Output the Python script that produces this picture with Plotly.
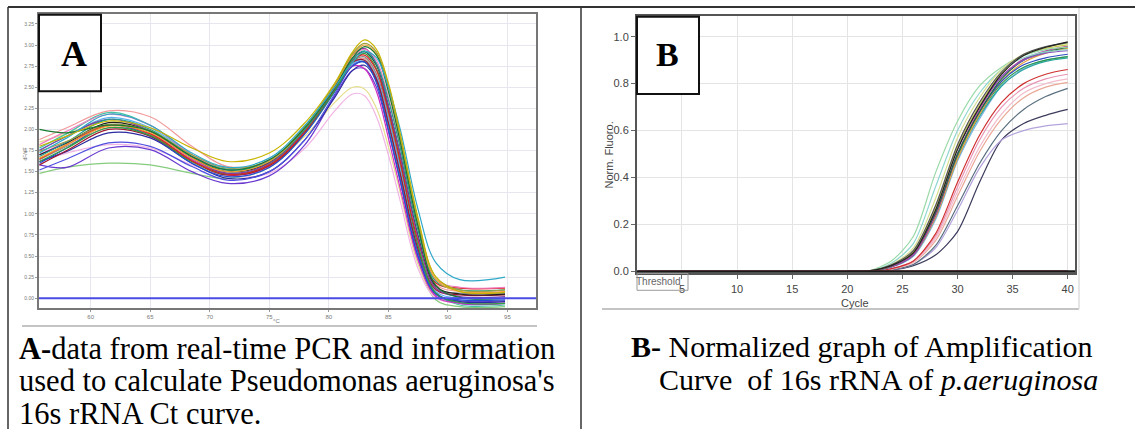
import plotly.graph_objects as go

# ---------------- Panel A: melt curve data (temperature in °C) ----------------
melt_temps = [55.7, 58, 61.5, 65, 68.5, 71.5, 75, 78, 80.5, 82, 83, 84, 85, 86, 87.5, 89, 91, 94.8]

melt_yellow     = [1.80, 1.92, 2.10, 2.02, 1.78, 1.62, 1.72, 2.08, 2.55, 2.92, 3.06, 2.95, 2.55, 1.95, 0.95, 0.25, 0.08, 0.07]
melt_darkgreen  = [2.00, 1.96, 2.05, 1.98, 1.68, 1.52, 1.64, 2.02, 2.50, 2.85, 2.98, 2.88, 2.45, 1.85, 0.85, 0.15, 0.01, 0.00]
melt_green      = [1.62, 1.78, 2.02, 1.93, 1.62, 1.47, 1.58, 1.98, 2.46, 2.80, 2.90, 2.72, 2.22, 1.62, 0.62, 0.06, -0.05, -0.06]
melt_lightgreen = [1.48, 1.55, 1.60, 1.58, 1.48, 1.42, 1.55, 1.95, 2.45, 2.78, 2.84, 2.60, 2.02, 1.40, 0.45, -0.02, -0.10, -0.10]
melt_cyan       = [1.72, 1.90, 2.18, 2.05, 1.72, 1.55, 1.66, 2.05, 2.50, 2.80, 2.92, 2.85, 2.50, 2.00, 1.05, 0.42, 0.22, 0.25]
melt_teal       = [1.68, 1.85, 2.12, 2.00, 1.68, 1.52, 1.62, 2.00, 2.50, 2.83, 2.93, 2.78, 2.35, 1.78, 0.80, 0.20, 0.10, 0.10]
melt_blue       = [1.60, 1.78, 2.05, 1.92, 1.60, 1.44, 1.55, 1.95, 2.45, 2.75, 2.80, 2.55, 2.00, 1.40, 0.50, 0.05, -0.02, -0.02]
melt_navy       = [1.62, 1.74, 1.96, 1.90, 1.60, 1.42, 1.50, 1.88, 2.38, 2.70, 2.76, 2.58, 2.10, 1.50, 0.55, 0.06, -0.04, -0.04]
melt_violet     = [1.58, 1.55, 1.78, 1.76, 1.50, 1.36, 1.45, 1.82, 2.40, 2.70, 2.72, 2.50, 1.98, 1.38, 0.48, 0.04, -0.03, -0.03]
melt_purple     = [1.75, 1.92, 2.12, 1.98, 1.66, 1.48, 1.60, 2.00, 2.52, 2.88, 2.96, 2.78, 2.28, 1.70, 0.72, 0.12, 0.02, 0.02]
melt_magenta    = [1.70, 1.85, 2.05, 1.95, 1.64, 1.46, 1.56, 1.96, 2.46, 2.75, 2.72, 2.45, 1.90, 1.30, 0.45, 0.02, -0.06, -0.06]
melt_pink       = [1.82, 1.98, 2.18, 2.05, 1.70, 1.52, 1.64, 2.02, 2.52, 2.85, 2.95, 2.82, 2.38, 1.80, 0.82, 0.22, 0.13, 0.13]
melt_lightpink  = [1.62, 1.72, 1.82, 1.78, 1.58, 1.45, 1.48, 1.78, 2.22, 2.42, 2.40, 2.15, 1.70, 1.15, 0.35, 0.00, -0.05, -0.05]
melt_paleyellow = [1.85, 1.95, 2.10, 2.00, 1.70, 1.52, 1.60, 1.92, 2.32, 2.50, 2.48, 2.25, 1.80, 1.25, 0.40, 0.02, -0.04, -0.04]
melt_rose       = [1.88, 2.02, 2.22, 2.15, 1.80, 1.56, 1.62, 2.00, 2.48, 2.78, 2.84, 2.65, 2.15, 1.58, 0.66, 0.16, 0.08, 0.08]
melt_red        = [1.65, 1.82, 2.05, 1.95, 1.63, 1.47, 1.58, 1.98, 2.50, 2.82, 2.88, 2.70, 2.22, 1.62, 0.68, 0.18, 0.12, 0.12]
melt_darkred    = [1.58, 1.75, 2.00, 1.92, 1.62, 1.46, 1.57, 1.97, 2.48, 2.80, 2.82, 2.60, 2.08, 1.48, 0.58, 0.10, 0.04, 0.04]
melt_black      = [1.70, 1.84, 2.08, 1.98, 1.67, 1.50, 1.61, 2.01, 2.50, 2.84, 2.92, 2.76, 2.28, 1.70, 0.74, 0.14, 0.05, 0.05]
melt_orange     = [1.66, 1.82, 2.04, 1.96, 1.66, 1.50, 1.62, 2.02, 2.52, 2.88, 3.00, 2.90, 2.48, 1.88, 0.88, 0.22, 0.08, 0.08]
melt_lightblue  = [1.76, 1.92, 2.14, 2.02, 1.70, 1.53, 1.63, 2.03, 2.50, 2.78, 2.82, 2.62, 2.12, 1.52, 0.60, 0.08, 0.00, 0.00]
melt_olive      = [1.74, 1.86, 2.06, 1.98, 1.70, 1.54, 1.64, 2.04, 2.54, 2.90, 3.02, 2.92, 2.52, 1.92, 0.92, 0.25, 0.10, 0.10]
melt_bluepurple = [1.52, 1.65, 1.84, 1.80, 1.56, 1.40, 1.50, 1.88, 2.42, 2.76, 2.80, 2.60, 2.08, 1.48, 0.56, 0.06, -0.06, -0.06]
melt_seagreen   = [1.78, 1.95, 2.20, 2.05, 1.70, 1.52, 1.60, 1.98, 2.46, 2.76, 2.80, 2.58, 2.05, 1.45, 0.54, 0.06, -0.08, -0.08]
melt_gray       = [1.64, 1.80, 2.02, 1.94, 1.64, 1.48, 1.58, 1.98, 2.48, 2.80, 2.86, 2.66, 2.16, 1.56, 0.64, 0.12, 0.06, 0.06]

melt_threshold = 0.0
melt_xticks = [60, 65, 70, 75, 80, 85, 90, 95]
melt_yticks = [0.00, 0.25, 0.50, 0.75, 1.00, 1.25, 1.50, 1.75, 2.00, 2.25, 2.50, 2.75, 3.00, 3.25]

# ---------------- Panel B: amplification data (normalised fluorescence) ----------------
amp_cycles = [1, 20, 22, 24, 26, 28, 30, 32, 34, 36, 38, 40]

amp_lightgreen  = [0, 0, 0.004, 0.045, 0.15, 0.42, 0.64, 0.79, 0.87, 0.92, 0.945, 0.955]
amp_lightteal   = [0, 0, 0.003, 0.035, 0.12, 0.36, 0.60, 0.76, 0.86, 0.91, 0.935, 0.945]
amp_yellowgreen = [0, 0, 0.003, 0.030, 0.10, 0.31, 0.57, 0.74, 0.86, 0.925, 0.955, 0.970]
amp_gray        = [0, 0, 0.003, 0.028, 0.09, 0.28, 0.54, 0.72, 0.85, 0.925, 0.958, 0.975]
amp_olive       = [0, 0, 0.003, 0.026, 0.085, 0.27, 0.53, 0.71, 0.845, 0.92, 0.95, 0.965]
amp_purple      = [0, 0, 0.003, 0.025, 0.08, 0.26, 0.52, 0.70, 0.83, 0.90, 0.93, 0.94]
amp_darkgreen   = [0, 0, 0.002, 0.024, 0.08, 0.25, 0.50, 0.68, 0.82, 0.90, 0.935, 0.955]
amp_magenta     = [0, 0, 0.002, 0.020, 0.072, 0.24, 0.50, 0.69, 0.83, 0.905, 0.94, 0.96]
amp_blue        = [0, 0, 0.002, 0.020, 0.07, 0.24, 0.50, 0.68, 0.81, 0.88, 0.91, 0.925]
amp_green       = [0, 0, 0.002, 0.022, 0.075, 0.24, 0.49, 0.67, 0.80, 0.87, 0.90, 0.915]
amp_teal        = [0, 0, 0.002, 0.020, 0.07, 0.23, 0.48, 0.66, 0.79, 0.86, 0.895, 0.91]
amp_orange      = [0, 0, 0.002, 0.020, 0.07, 0.23, 0.48, 0.67, 0.81, 0.89, 0.93, 0.95]
amp_lightblue   = [0, 0, 0.002, 0.018, 0.065, 0.22, 0.47, 0.65, 0.79, 0.865, 0.90, 0.915]
amp_red         = [0, 0, 0.001, 0.012, 0.045, 0.16, 0.38, 0.58, 0.72, 0.80, 0.84, 0.86]
amp_pink        = [0, 0, 0.001, 0.012, 0.045, 0.15, 0.36, 0.56, 0.70, 0.78, 0.82, 0.84]
amp_lightpink   = [0, 0, 0.001, 0.010, 0.040, 0.14, 0.34, 0.53, 0.67, 0.76, 0.80, 0.82]
amp_salmon      = [0, 0, 0.001, 0.010, 0.038, 0.13, 0.32, 0.51, 0.65, 0.74, 0.785, 0.805]
amp_slateblue   = [0, 0, 0.001, 0.008, 0.030, 0.11, 0.28, 0.46, 0.60, 0.69, 0.745, 0.78]
amp_lavender    = [0, 0, 0.001, 0.008, 0.030, 0.10, 0.26, 0.44, 0.56, 0.60, 0.62, 0.63]
amp_darkslate   = [0, 0, 0.001, 0.006, 0.025, 0.07, 0.17, 0.38, 0.56, 0.63, 0.665, 0.69]
amp_black       = [0, 0, 0.003, 0.025, 0.08, 0.26, 0.52, 0.70, 0.84, 0.92, 0.955, 0.978]
amp_negative    = [0.003, 0.003, 0.003, 0.003, 0.003, 0.003, 0.003, 0.003, 0.003, 0.003, 0.003, 0.003]

amp_threshold = 0.0
amp_xticks = [5, 10, 15, 20, 25, 30, 35, 40]
amp_yticks = [0.0, 0.2, 0.4, 0.6, 0.8, 1.0]

melt_series = [
    (melt_lightgreen, "#86cc7e"), (melt_paleyellow, "#e6df8e"), (melt_lightpink, "#f2b4e4"),
    (melt_rose, "#f29a9a"), (melt_seagreen, "#44c2a2"), (melt_violet, "#6a3ad0"),
    (melt_navy, "#2c2ca0"), (melt_bluepurple, "#5050e0"), (melt_gray, "#8a8a8a"),
    (melt_lightblue, "#5eb0f0"), (melt_magenta, "#d030c0"), (melt_blue, "#2050d0"),
    (melt_darkred, "#a01830"), (melt_green, "#30a040"), (melt_red, "#e02020"),
    (melt_black, "#202020"), (melt_purple, "#8040a0"), (melt_pink, "#f07cc0"),
    (melt_teal, "#20a090"), (melt_orange, "#f0a030"), (melt_olive, "#a0a040"),
    (melt_darkgreen, "#1a7a30"), (melt_cyan, "#30a8c8"), (melt_yellow, "#c8b400"),
]

amp_series = [
    (amp_darkslate, "#3c3c5c"), (amp_lavender, "#b4a4dc"), (amp_slateblue, "#5a7080"),
    (amp_salmon, "#eaa896"), (amp_lightpink, "#f2bccc"), (amp_pink, "#e894b4"),
    (amp_red, "#d03030"), (amp_lightblue, "#80b2e2"), (amp_teal, "#2aa6a0"),
    (amp_green, "#2a9a4a"), (amp_orange, "#e8a040"), (amp_blue, "#3050c0"),
    (amp_magenta, "#c040a0"), (amp_darkgreen, "#1d6b3a"), (amp_purple, "#8a4fbf"),
    (amp_olive, "#c8c850"), (amp_lightteal, "#8fd6d0"), (amp_lightgreen, "#9ad9a8"),
    (amp_yellowgreen, "#d8e090"), (amp_gray, "#555555"), (amp_black, "#222222"),
]

W, H = 1135, 433
def px(x):
    return x / W
def py(y):
    return 1 - y / H

fig = go.Figure()

for vals, col in melt_series:
    fig.add_trace(go.Scatter(x=melt_temps, y=vals, mode="lines", xaxis="x", yaxis="y",
                             line=dict(color=col, width=1.2, shape="spline", smoothing=1.0),
                             hoverinfo="skip", showlegend=False))

for vals, col in amp_series:
    fig.add_trace(go.Scatter(x=amp_cycles, y=vals, mode="lines", xaxis="x2", yaxis="y2",
                             line=dict(color=col, width=1.2, shape="spline", smoothing=0.8),
                             hoverinfo="skip", showlegend=False))
fig.add_trace(go.Scatter(x=amp_cycles, y=amp_negative, mode="lines", xaxis="x2", yaxis="y2",
                         line=dict(color="#d04050", width=1.2), hoverinfo="skip", showlegend=False))

serif = "Liberation Serif, Times New Roman, serif"
sans = "Liberation Sans, Arial, sans-serif"

fig.update_layout(
    width=W, height=H, margin=dict(l=0, r=0, t=0, b=0),
    paper_bgcolor="white", plot_bgcolor="white",
    xaxis=dict(domain=[px(39), px(536)], range=[55.66, 97.4], anchor="y",
               tickvals=melt_xticks, ticktext=[str(v) for v in melt_xticks],
               tickfont=dict(size=6, color="#777", family=sans), ticks="outside", ticklen=2,
               tickcolor="#999", showgrid=True, gridcolor="#e6e6ee", gridwidth=1,
               showline=True, linecolor="#777", linewidth=2, mirror=True, zeroline=False),
    yaxis=dict(domain=[py(311), py(14)], range=[-0.117, 3.369], anchor="x",
               tickvals=melt_yticks, ticktext=["%.2f" % v for v in melt_yticks],
               tickfont=dict(size=5, color="#777", family=sans), ticks="outside", ticklen=2,
               tickcolor="#999", showgrid=True, gridcolor="#e6e6ee", gridwidth=1,
               showline=True, linecolor="#777", linewidth=2, mirror=True, zeroline=False),
    xaxis2=dict(domain=[px(637), px(1075)], range=[0.92, 40.66], anchor="y2",
                tickvals=amp_xticks, ticktext=[str(v) for v in amp_xticks],
                tickfont=dict(size=11, color="#444", family=sans), ticks="outside", ticklen=4,
                tickcolor="#666", showgrid=True, gridcolor="#e4e4e4", gridwidth=1,
                showline=True, linecolor="#555", linewidth=2, mirror=True, zeroline=False),
    yaxis2=dict(domain=[py(276), py(16)], range=[-0.0084, 1.0886], anchor="x2",
                tickvals=amp_yticks, ticktext=["%.1f" % v for v in amp_yticks],
                tickfont=dict(size=11, color="#444", family=sans), ticks="outside", ticklen=4,
                tickcolor="#666", showgrid=True, gridcolor="#e4e4e4", gridwidth=1,
                showline=True, linecolor="#555", linewidth=2, mirror=True, zeroline=False),
)

shapes = [
    # table borders
    dict(type="line", xref="paper", yref="paper", x0=px(8), x1=px(1135), y0=py(7), y1=py(7),
         line=dict(color="#333", width=2)),
    dict(type="line", xref="paper", yref="paper", x0=px(8), x1=px(8), y0=py(7), y1=py(433),
         line=dict(color="#333", width=1.5)),
    dict(type="line", xref="paper", yref="paper", x0=px(581), x1=px(581), y0=py(7), y1=py(433),
         line=dict(color="#333", width=1.5)),
    # screenshot edges
    dict(type="line", xref="paper", yref="paper", x0=px(22), x1=px(537), y0=py(329), y1=py(329),
         line=dict(color="#c4c4c4", width=2)),
    dict(type="line", xref="paper", yref="paper", x0=px(602), x1=px(1079), y0=py(312), y1=py(312),
         line=dict(color="#c4c4c4", width=2)),
    dict(type="line", xref="paper", yref="paper", x0=px(1079), x1=px(1079), y0=py(8), y1=py(312),
         line=dict(color="#dddddd", width=1.5)),
    # melt threshold line
    dict(type="line", xref="x domain", yref="y", x0=0, x1=1, y0=melt_threshold, y1=melt_threshold,
         line=dict(color="#4a4ae6", width=2)),
    # amplification threshold line
    dict(type="line", xref="x2 domain", yref="y2", x0=0, x1=1, y0=amp_threshold, y1=amp_threshold,
         line=dict(color="#1a1a1a", width=2.5)),
    # panel label boxes
    dict(type="rect", xref="paper", yref="paper", x0=px(39), x1=px(101), y0=py(92), y1=py(15),
         line=dict(color="#111", width=2), fillcolor="white", layer="above"),
    dict(type="rect", xref="paper", yref="paper", x0=px(637), x1=px(699), y0=py(95), y1=py(17),
         line=dict(color="#111", width=2), fillcolor="white", layer="above"),
    # Threshold label box
    dict(type="rect", xref="paper", yref="paper", x0=px(637), x1=px(688), y0=py(293), y1=py(276),
         line=dict(color="#999", width=1), fillcolor="rgba(255,255,255,0)", layer="above"),
]
fig.update_layout(shapes=shapes)

ann = [
    dict(x=px(74), y=py(54), text="<b>A</b>", font=dict(family=serif, size=36, color="black")),
    dict(x=px(667), y=py(55), text="<b>B</b>", font=dict(family=serif, size=34, color="black")),
    dict(x=px(658), y=py(284), text="Threshold", font=dict(family=sans, size=10, color="#666")),
    dict(x=px(855), y=py(306), text="Cycle", font=dict(family=sans, size=11, color="#444")),
    dict(x=px(609), y=py(157), text="Norm. Fluoro.", textangle=-90,
         font=dict(family=sans, size=11, color="#444")),
    dict(x=px(276), y=py(324), text="°C", font=dict(family=sans, size=6, color="#777")),
    dict(x=px(25), y=py(156), text="dF/dT", textangle=-90, font=dict(family=sans, size=5, color="#777")),
    # captions
    dict(x=px(17), y=py(352), xanchor="left", text="<b>A-</b>data from real-time PCR and information",
         font=dict(family=serif, size=30.5, color="black")),
    dict(x=px(17), y=py(385), xanchor="left", text="used to calculate Pseudomonas aeruginosa's",
         font=dict(family=serif, size=30.5, color="black")),
    dict(x=px(17), y=py(418), xanchor="left", text="16s rRNA Ct curve.",
         font=dict(family=serif, size=30.5, color="black")),
    dict(x=px(862), y=py(350), text="<b>B-</b> Normalized graph of Amplification",
         font=dict(family=serif, size=30, color="black")),
    dict(x=px(878), y=py(383), text="Curve&nbsp; of 16s rRNA of <i>p.aeruginosa</i>",
         font=dict(family=serif, size=30, color="black")),
]
for a in ann:
    a.setdefault("xref", "paper")
    a.setdefault("yref", "paper")
    a.setdefault("showarrow", False)
    a.setdefault("xanchor", "center")
    a.setdefault("yanchor", "middle")
fig.update_layout(annotations=ann)

fig.write_html("out.html")
